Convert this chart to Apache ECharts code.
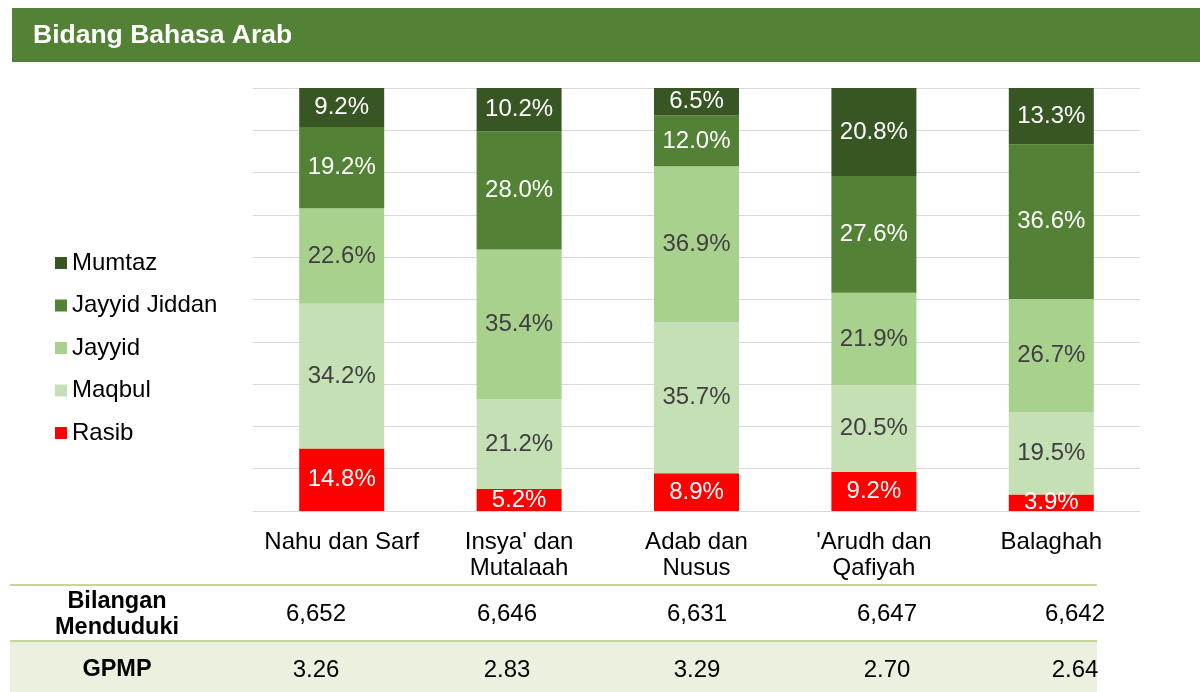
<!DOCTYPE html>
<html>
<head>
<meta charset="utf-8">
<script src="https://cdn.jsdelivr.net/npm/echarts@6/dist/echarts.min.js"></script>
<style>
  html, body { margin: 0; padding: 0; background: #fff; }
  #chart { width: 1200px; height: 692px; }
</style>
</head>
<body>
<div id="chart"></div>
<script>
// data
const categories = ['Nahu dan Sarf', "Insya' dan\nMutalaah", 'Adab dan\nNusus', "'Arudh dan\nQafiyah", 'Balaghah']
const rasib = [14.8, 5.2, 8.9, 9.2, 3.9]
const maqbul = [34.2, 21.2, 35.7, 20.5, 19.5]
const jayyid = [22.6, 35.4, 36.9, 21.9, 26.7]
const jayyidJiddan = [19.2, 28.0, 12.0, 27.6, 36.6]
const mumtaz = [9.2, 10.2, 6.5, 20.8, 13.3]
const bilangan = [6652, 6646, 6631, 6647, 6642]
const gpmp = [3.26, 2.83, 3.29, 2.70, 2.64]
const yTicks = [0, 10, 20, 30, 40, 50, 60, 70, 80, 90, 100]

const FONT = '"Liberation Sans", Arial, sans-serif'

const seriesDefs = [
  { name: 'Rasib', data: rasib, color: '#ff0000', text: '#ffffff' },
  { name: 'Maqbul', data: maqbul, color: '#c5e0b4', text: '#404040' },
  { name: 'Jayyid', data: jayyid, color: '#a9d18e', text: '#404040' },
  { name: 'Jayyid Jiddan', data: jayyidJiddan, color: '#538135', text: '#ffffff' },
  { name: 'Mumtaz', data: mumtaz, color: '#375623', text: '#ffffff' }
]

const series = seriesDefs.map((s) => ({
  type: 'bar',
  name: s.name,
  stack: 'total',
  barWidth: 85,
  data: s.data,
  itemStyle: { color: s.color },
  label: {
    show: true,
    position: 'inside',
    color: s.text,
    fontFamily: FONT,
    fontSize: 24,
    formatter: (p) => p.value.toFixed(1) + '%'
  }
}))

// table below the chart
const colX = [316, 507, 697, 887, 1075]
const tableGraphic = [
  { type: 'rect', shape: { x: 10, y: 642, width: 1087, height: 50 }, style: { fill: '#ebf1de' } },
  { type: 'line', shape: { x1: 10, y1: 585, x2: 1097, y2: 585 }, style: { stroke: '#c3d69b', lineWidth: 2 } },
  { type: 'line', shape: { x1: 10, y1: 641, x2: 1097, y2: 641 }, style: { stroke: '#c3d69b', lineWidth: 2 } },
  { type: 'text', x: 117, y: 615, style: { text: 'Bilangan\nMenduduki', align: 'center', verticalAlign: 'middle', font: 'bold 23.5px ' + FONT, lineHeight: 26, fill: '#000' } },
  { type: 'text', x: 117, y: 670, style: { text: 'GPMP', align: 'center', verticalAlign: 'middle', font: 'bold 23.5px ' + FONT, fill: '#000' } }
]
bilangan.forEach((v, i) => {
  tableGraphic.push({ type: 'text', x: colX[i], y: 614, style: { text: v.toLocaleString('en-US'), align: 'center', verticalAlign: 'middle', font: '24px ' + FONT, fill: '#000' } })
})
gpmp.forEach((v, i) => {
  tableGraphic.push({ type: 'text', x: colX[i], y: 670, style: { text: v.toFixed(2), align: 'center', verticalAlign: 'middle', font: '24px ' + FONT, fill: '#000' } })
})

const chart = echarts.init(document.getElementById('chart'))
chart.setOption({
  animation: false,
  textStyle: { fontFamily: FONT },
  graphic: [
    { type: 'rect', shape: { x: 12, y: 8, width: 1188, height: 54 }, style: { fill: '#538135' } },
    { type: 'text', x: 33, y: 36, style: { text: 'Bidang Bahasa Arab', verticalAlign: 'middle', font: 'bold 26.5px ' + FONT, fill: '#ffffff' } }
  ].concat(tableGraphic),
  legend: {
    orient: 'vertical',
    left: 50,
    top: 246,
    icon: 'rect',
    itemWidth: 12,
    itemHeight: 12,
    itemGap: 18.5,
    data: seriesDefs.map((s) => s.name).reverse(),
    textStyle: { fontSize: 24, color: '#000', fontFamily: FONT, lineHeight: 24 }
  },
  grid: { left: 253, right: 60, top: 88, bottom: 181 },
  xAxis: {
    type: 'category',
    data: categories,
    axisTick: { show: false },
    axisLine: { show: true, lineStyle: { color: '#d9d9d9', width: 1 } },
    axisLabel: { color: '#000', fontSize: 24, fontFamily: FONT, lineHeight: 26, margin: 18, interval: 0 }
  },
  yAxis: {
    type: 'value',
    min: yTicks[0],
    max: yTicks[yTicks.length - 1],
    interval: yTicks[1] - yTicks[0],
    axisLabel: { show: false },
    axisLine: { show: false },
    axisTick: { show: false },
    splitLine: { show: true, lineStyle: { color: '#d9d9d9', width: 1 } }
  },
  series: series
})
</script>
</body>
</html>
